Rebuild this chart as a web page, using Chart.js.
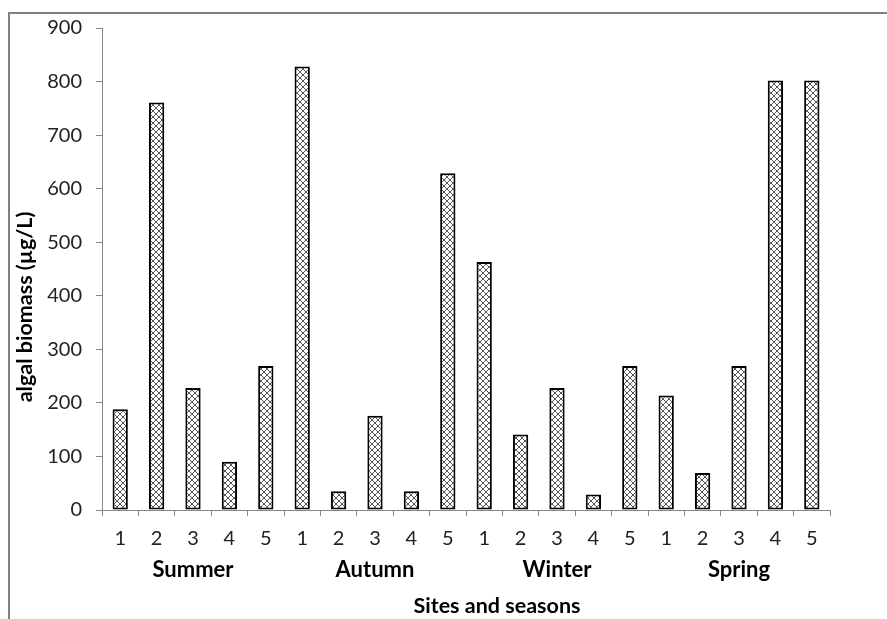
<!DOCTYPE html>
<html>
<head>
<meta charset="utf-8">
<script src="https://cdn.jsdelivr.net/npm/chart.js@4"></script>
<style>
  body { margin: 0; background: #fff; }
  #wrap { position: relative; width: 887px; height: 619px; overflow: hidden; }
  #frame { position: absolute; left: 8px; top: 12px; width: 900px; height: 700px;
           border-left: 2px solid #808080; border-top: 2px solid #808080; }
  canvas { position: absolute; left: 0; top: 0; }
</style>
</head>
<body>
<div id="wrap">
  <div id="frame"></div>
  <canvas id="myChart" width="887" height="619"></canvas>
</div>
<script>
// sites and seasons
const sites = ['1', '2', '3', '4', '5', '1', '2', '3', '4', '5', '1', '2', '3', '4', '5', '1', '2', '3', '4', '5'];
const seasons = ['Summer', 'Autumn', 'Winter', 'Spring'];
// algal biomass values (ug/L)
const biomass = [188, 761, 228, 90, 269, 828, 35, 176, 35, 629, 463, 141, 228, 29, 269, 214, 69, 269, 802, 802];
const yTicks = [0, 100, 200, 300, 400, 500, 600, 700, 800, 900];

const fontFam = 'Lato, "Liberation Sans", Arial, sans-serif';

//crosshatch fill for the bars
function makeHatch() {
  const tile = document.createElement('canvas');
  tile.width = 6;
  tile.height = 6;
  const c = tile.getContext('2d');
  c.fillStyle = '#fff';
  c.fillRect(0, 0, 6, 6);
  c.strokeStyle = '#555';
  c.lineWidth = 1;
  c.beginPath();
  c.moveTo(0, 0); c.lineTo(6, 6);
  c.moveTo(0, 6); c.lineTo(6, 0);
  c.stroke();
  return c.createPattern(tile, 'repeat');
}

//axis titles drawn by hand so they sit where the original has them
const axisTitles = {
  id: 'axisTitles',
  afterDraw(chart) {
    const c = chart.ctx;
    c.save();
    c.fillStyle = '#000';
    c.font = 'bold 21.5px ' + fontFam;
    c.textAlign = 'center';
    c.textBaseline = 'middle';
    c.fillText('Sites and seasons', 497, 606);
    c.translate(25, 307);
    c.rotate(-Math.PI / 2);
    c.fillText('algal biomass (µg/L)', 0, 0);
    c.restore();
  }
};

var ctx = document.getElementById('myChart').getContext('2d');
var myChart = new Chart(ctx, {
  type: 'bar',
  data: {
    labels: sites,
    datasets: [{
      data: biomass,
      backgroundColor: makeHatch(),
      borderColor: '#000',
      borderWidth: 2,
      borderSkipped: false,
      categoryPercentage: 1,
      barPercentage: 0.42
    }]
  },
  options: {
    responsive: false,
    animation: false,
    devicePixelRatio: 1,
    layout: { padding: { left: 0, top: 28, right: 57, bottom: 0 } },
    plugins: {
      legend: { display: false },
      tooltip: { enabled: false }
    },
    scales: {
      y: {
        min: 0,
        max: 900,
        afterBuildTicks: (s) => { s.ticks = yTicks.map(v => ({ value: v })); },
        afterFit: (s) => { s.width = 102; },
        grid: { drawOnChartArea: false, tickLength: 6, color: '#868686' },
        border: { color: '#868686', width: 1 },
        ticks: { padding: 14, color: '#222', font: { family: fontFam, size: 20 } }
      },
      x: {
        afterFit: (s) => { s.height = 45; },
        grid: { drawOnChartArea: false, tickLength: 6, color: '#868686', offset: true },
        border: { color: '#868686', width: 1 },
        ticks: { padding: 11, color: '#222', maxRotation: 0, autoSkip: false, font: { family: fontFam, size: 20 } }
      },
      x2: {
        type: 'category',
        position: 'bottom',
        labels: seasons,
        offset: true,
        afterFit: (s) => { s.height = 64; },
        grid: { display: false, drawTicks: false },
        border: { display: false },
        ticks: { padding: 2, color: '#000', maxRotation: 0, font: { family: fontFam, size: 22, weight: 'bold' } }
      }
    }
  },
  plugins: [axisTitles]
});
</script>
</body>
</html>
